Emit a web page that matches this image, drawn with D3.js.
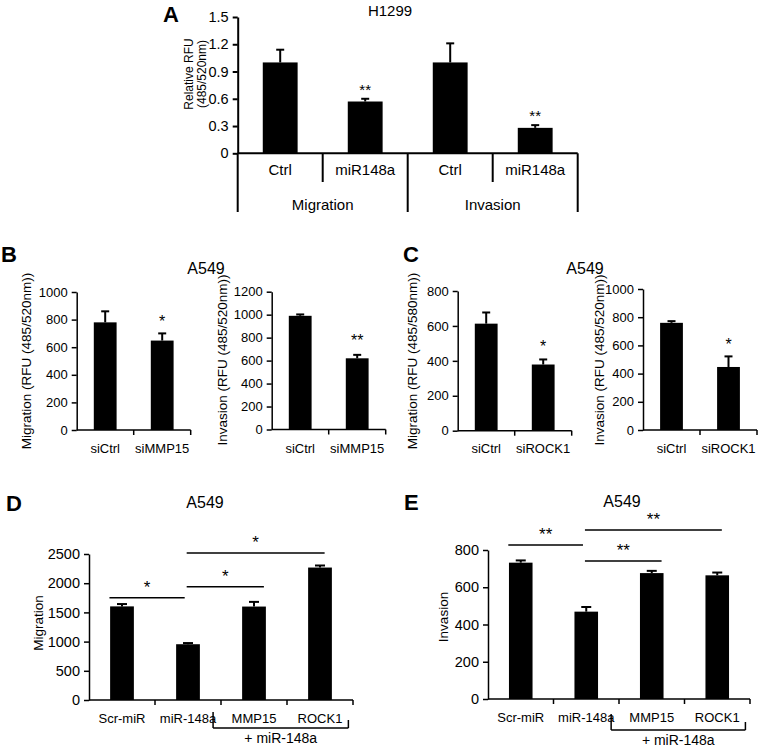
<!DOCTYPE html>
<html>
<head>
<meta charset="utf-8">
<script src="https://cdn.jsdelivr.net/npm/d3@7/dist/d3.min.js"></script>
<style>
  html, body { margin: 0; padding: 0; background: #fff; }
  svg text { font-family: "Liberation Sans", Arial, Helvetica, sans-serif; fill: #000; }
</style>
</head>
<body>
<svg id="fig" width="768" height="749"></svg>
<script>
// ---------------- DATA ----------------
// Panel A (H1299)
const aCategories = ["Ctrl", "miR148a", "Ctrl", "miR148a"];
const aGroups = ["Migration", "Invasion"];
const aValues = [1.0, 0.57, 1.0, 0.28];
const aErrors = [0.14, 0.03, 0.21, 0.03];
const aTicks = [0, 0.3, 0.6, 0.9, 1.2, 1.5];
const aSig = ["", "**", "", "**"];

// Panel B (A549, siMMP15)
const bCategories = ["siCtrl", "siMMP15"];
const bMigration = [780, 648];
const bMigrationErr = [80, 52];
const bMigrationTicks = [0, 200, 400, 600, 800, 1000];
const bMigrationSig = ["", "*"];
const bInvasion = [990, 620];
const bInvasionErr = [12, 30];
const bInvasionTicks = [0, 200, 400, 600, 800, 1000, 1200];
const bInvasionSig = ["", "**"];

// Panel C (A549, siROCK1)
const cCategories = ["siCtrl", "siROCK1"];
const cMigration = [613, 379];
const cMigrationErr = [64, 29];
const cMigrationTicks = [0, 200, 400, 600, 800];
const cMigrationSig = ["", "*"];
const cInvasion = [760, 447];
const cInvasionErr = [12, 75];
const cInvasionTicks = [0, 200, 400, 600, 800, 1000];
const cInvasionSig = ["", "*"];

// Panel D / E (A549 rescue)
const deCategories = ["Scr-miR", "miR-148a", "MMP15", "ROCK1"];
const deGroupLabel = "+ miR-148a";
const dValues = [1603, 955, 1600, 2268];
const dErrors = [40, 20, 80, 35];
const dTicks = [0, 500, 1000, 1500, 2000, 2500];
// comparison brackets: from category, to category, level (data units), label
const dComparisons = [
  { from: 0, to: 1, level: 1752, label: "*" },
  { from: 1, to: 2, level: 1940, label: "*" },
  { from: 1, to: 3, level: 2517, label: "*" }
];
const eValues = [732, 469, 676, 664];
const eErrors = [12, 25, 12, 15];
const eTicks = [0, 200, 400, 600, 800];
const eComparisons = [
  { from: 0, to: 1, level: 827, label: "**" },
  { from: 1, to: 2, level: 741, label: "**" },
  { from: 1, to: 3, level: 907, label: "**" }
];

// ---------------- DRAWING ----------------
const svg = d3.select("#fig");

function drawPanel(o) {
  const g = svg.append("g");
  const n = o.categories.length;
  const y = d3.scaleLinear().domain([0, o.max]).range([o.y0, o.yTop]);
  const x = d3.scaleBand().domain(d3.range(n))
    .range([o.x0, o.x0 + n * o.band]).paddingInner(o.pad).paddingOuter(o.pad / 2);

  // bars
  g.selectAll("rect.bar").data(o.values).enter().append("rect")
    .attr("class", "bar")
    .attr("x", (d, i) => x(i))
    .attr("width", x.bandwidth())
    .attr("y", d => y(d))
    .attr("height", d => o.y0 - y(d))
    .attr("fill", "#000");

  // error bars (upper only, capped)
  const cap = o.cap;
  o.values.forEach((v, i) => {
    const cx = x(i) + x.bandwidth() / 2;
    const top = y(v + o.errors[i]);
    g.append("line").attr("x1", cx).attr("x2", cx).attr("y1", y(v)).attr("y2", top)
      .attr("stroke", "#000").attr("stroke-width", 2);
    g.append("line").attr("x1", cx - cap).attr("x2", cx + cap).attr("y1", top).attr("y2", top)
      .attr("stroke", "#000").attr("stroke-width", 2);
    if (o.sig && o.sig[i]) {
      g.append("text").attr("x", cx).attr("y", top - o.sigGap)
        .attr("text-anchor", "middle").attr("font-size", o.sigSize).text(o.sig[i]);
    }
  });

  // y axis
  const yAxis = d3.axisLeft(y).tickValues(o.ticks).tickSize(5).tickSizeOuter(0).tickPadding(4)
    .tickFormat(o.fmt || d3.format("d"));
  const ya = g.append("g").attr("transform", `translate(${o.x0},0)`).call(yAxis);
  ya.select(".domain").attr("stroke", "#000").attr("stroke-width", o.axisW);
  ya.selectAll(".tick line").attr("stroke", "#000").attr("stroke-width", o.axisW);
  ya.selectAll(".tick text").attr("font-size", o.tickSize).attr("font-family", "Liberation Sans, Arial, sans-serif").attr("fill", "#000");

  // x baseline with ticks at category boundaries
  const xEnd = o.x0 + n * o.band;
  g.append("line").attr("x1", o.x0).attr("x2", xEnd).attr("y1", o.y0).attr("y2", o.y0)
    .attr("stroke", "#000").attr("stroke-width", o.axisW);
  if (o.xTicks !== false) {
    d3.range(n + 1).forEach(k => {
      if (k === 0) return;
      const xx = o.x0 + k * o.band;
      g.append("line").attr("x1", xx).attr("x2", xx).attr("y1", o.y0).attr("y2", o.y0 + 5)
        .attr("stroke", "#000").attr("stroke-width", o.axisW);
    });
    // category labels
    o.categories.forEach((c, i) => {
      g.append("text").attr("x", x(i) + x.bandwidth() / 2).attr("y", o.labelY)
        .attr("text-anchor", "middle").attr("font-size", o.labelSize).text(c);
    });
  }

  // y label
  if (o.yLabel) {
    const lines = Array.isArray(o.yLabel) ? o.yLabel : [o.yLabel];
    lines.forEach((t, k) => {
      g.append("text")
        .attr("transform", `translate(${o.yLabelX[k]},${o.yLabelY}) rotate(-90)`)
        .attr("text-anchor", "middle").attr("dominant-baseline", "central")
        .attr("font-size", o.yLabelSize).text(t);
    });
  }
  return { g, x, y, xEnd };
}

function text(x, y, t, size, opts = {}) {
  return svg.append("text").attr("x", x).attr("y", y).attr("font-size", size)
    .attr("text-anchor", opts.anchor || "middle")
    .attr("font-weight", opts.bold ? "bold" : "normal").text(t);
}
function line(x1, y1, x2, y2, w = 1.5) {
  svg.append("line").attr("x1", x1).attr("y1", y1).attr("x2", x2).attr("y2", y2)
    .attr("stroke", "#000").attr("stroke-width", w);
}

// ----- Panel A -----
const pA = drawPanel({
  categories: aCategories, values: aValues, errors: aErrors, ticks: aTicks, max: 1.5,
  x0: 237.7, band: 85, pad: 0.59, y0: 153.3, yTop: 17, cap: 4,
  fmt: d => (d === 0 ? "0" : d3.format(".1f")(d)),
  tickSize: 14.5, axisW: 2, xTicks: false, sig: aSig, sigSize: 15, sigGap: 4,
  yLabel: ["Relative RFU", "(485/520nm)"], yLabelX: [189, 202], yLabelY: 74, yLabelSize: 12
});
// A: table-like category axis
{
  const band = 85, x0 = 237.7, y0 = 153.3;
  d3.range(5).forEach(k => {
    const xx = x0 + k * band;
    const long = k % 2 === 0;
    line(xx, y0, xx, long ? 212 : 182, 2);
  });
  aCategories.forEach((c, i) => text(pA.x(i) + pA.x.bandwidth() / 2, 175, c, 15));
  aGroups.forEach((gname, j) => text(x0 + (2 * j + 1) * band, 210, gname, 15));
}
text(390, 16, "H1299", 15);
text(163, 22, "A", 22, { anchor: "start", bold: true });

// ----- Panel B -----
drawPanel({
  categories: bCategories, values: bMigration, errors: bMigrationErr, ticks: bMigrationTicks, max: 1000,
  x0: 76.7, band: 57, pad: 0.6, y0: 430, yTop: 292, cap: 4,
  tickSize: 13, axisW: 1.5, labelY: 453, labelSize: 13, sig: bMigrationSig, sigSize: 16, sigGap: 6,
  yLabel: "Migration (RFU (485/520nm))", yLabelX: [26], yLabelY: 361, yLabelSize: 13.5
});
drawPanel({
  categories: bCategories, values: bInvasion, errors: bInvasionErr, ticks: bInvasionTicks, max: 1200,
  x0: 271.7, band: 57, pad: 0.6, y0: 429.5, yTop: 291.7, cap: 4,
  tickSize: 13, axisW: 1.5, labelY: 453, labelSize: 13, sig: bInvasionSig, sigSize: 16, sigGap: 9,
  yLabel: "Invasion (RFU (485/520nm))", yLabelX: [222], yLabelY: 360, yLabelSize: 13.5
});
text(206, 274, "A549", 16);
text(1, 262, "B", 22, { anchor: "start", bold: true });

// ----- Panel C -----
drawPanel({
  categories: cCategories, values: cMigration, errors: cMigrationErr, ticks: cMigrationTicks, max: 800,
  x0: 457.7, band: 57, pad: 0.6, y0: 430.7, yTop: 291, cap: 4,
  tickSize: 13, axisW: 1.5, labelY: 453, labelSize: 13, sig: cMigrationSig, sigSize: 16, sigGap: 7,
  yLabel: "Migration (RFU (485/580nm))", yLabelX: [412], yLabelY: 361, yLabelSize: 13.5
});
drawPanel({
  categories: cCategories, values: cInvasion, errors: cInvasionErr, ticks: cInvasionTicks, max: 1000,
  x0: 643, band: 57, pad: 0.6, y0: 430, yTop: 289, cap: 4,
  tickSize: 13, axisW: 1.5, labelY: 453, labelSize: 13, sig: cInvasionSig, sigSize: 16, sigGap: 6,
  yLabel: "Invasion (RFU (485/520nm))", yLabelX: [599], yLabelY: 360, yLabelSize: 13.5
});
text(585, 274, "A549", 16);
text(403, 262, "C", 22, { anchor: "start", bold: true });

// ----- Panel D / E -----
function drawRescue(o) {
  const p = drawPanel(o);
  const c = i => p.x(i) + p.x.bandwidth() / 2;
  o.comparisons.forEach(cmp => {
    const x1 = c(cmp.from) + (cmp.from === 0 ? -0.19 : -0.02) * o.band;
    const x2 = c(cmp.to) + (cmp.to === 1 ? -0.05 : cmp.to === 2 ? 0.15 : 0.07) * o.band;
    const yy = p.y(cmp.level);
    line(x1, yy, x2, yy, 1.5);
    text((x1 + x2) / 2, yy - 5, cmp.label, 17);
  });
  // group bracket under MMP15 / ROCK1
  const bx1 = o.x0 + 2 * o.band - 0.12 * o.band;
  const bx2 = o.x0 + 4 * o.band - 0.07 * o.band;
  line(bx1, o.bracketY - 16, bx1, o.bracketY, 1.5);
  line(bx1, o.bracketY, bx2, o.bracketY, 1.5);
  line(bx2, o.bracketY - 8, bx2, o.bracketY, 1.5);
  text((bx1 + bx2) / 2, o.bracketY + 15, deGroupLabel, 14);
}
drawRescue({
  categories: deCategories, values: dValues, errors: dErrors, ticks: dTicks, max: 2500,
  x0: 89, band: 66, pad: 0.64, y0: 700, yTop: 554, cap: 5,
  tickSize: 14.5, axisW: 1.5, labelY: 723, labelSize: 13,
  yLabel: "Migration", yLabelX: [38], yLabelY: 623, yLabelSize: 13.5,
  comparisons: dComparisons, bracketY: 728
});
text(205, 508, "A549", 16);
text(6, 511, "D", 22, { anchor: "start", bold: true });

drawRescue({
  categories: deCategories, values: eValues, errors: eErrors, ticks: eTicks, max: 800,
  x0: 488, band: 65.5, pad: 0.64, y0: 699, yTop: 550, cap: 5,
  tickSize: 14.5, axisW: 1.5, labelY: 722, labelSize: 13,
  yLabel: "Invasion", yLabelX: [443], yLabelY: 617, yLabelSize: 13.5,
  comparisons: eComparisons, bracketY: 730
});
text(622, 507, "A549", 16);
text(404, 510, "E", 22, { anchor: "start", bold: true });
</script>
</body>
</html>
